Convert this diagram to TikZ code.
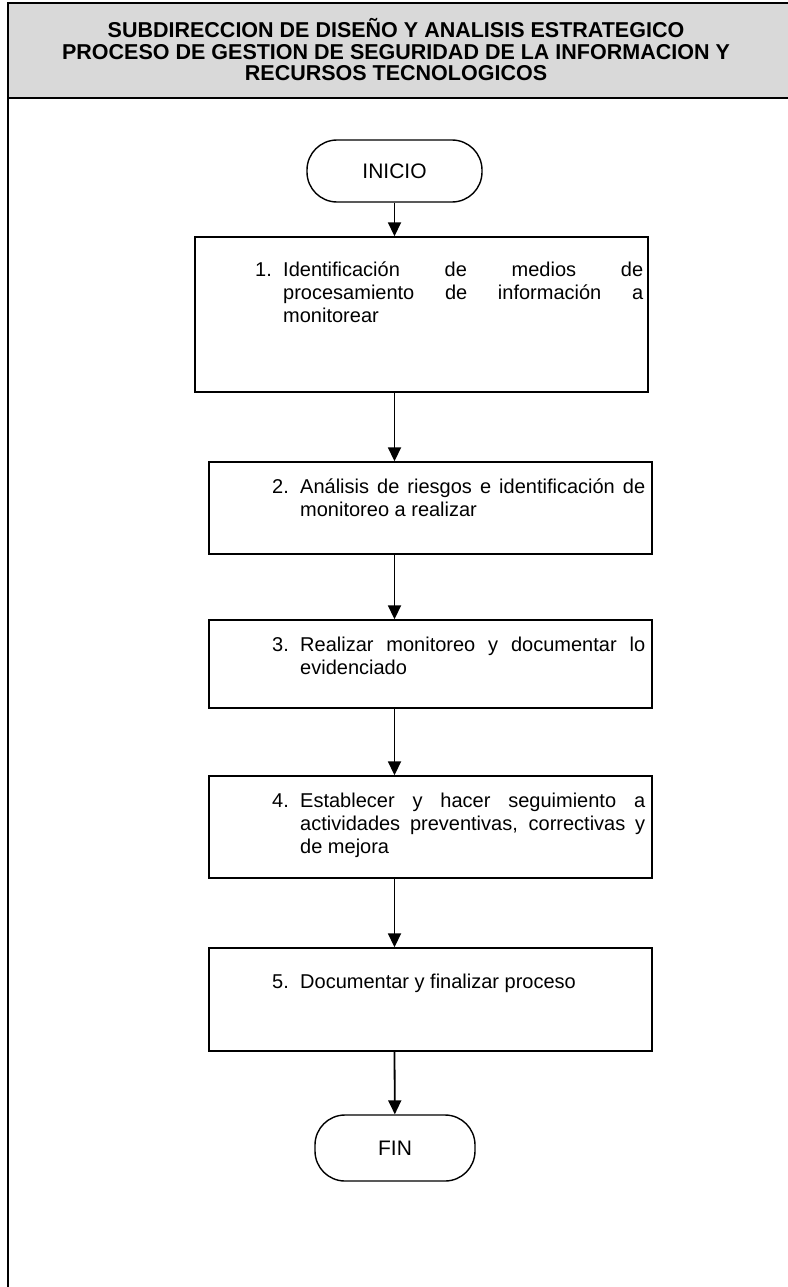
\documentclass[tikz,border=0pt]{standalone}
\usepackage{fontspec}
\setmainfont{Liberation Sans}
\usetikzlibrary{arrows.meta}

\definecolor{headgray}{RGB}{217,217,217}

\tikzset{
	terminal/.style = {draw, line width = 1.4pt, rounded corners = 30pt, font = \fontsize{21}{24}\selectfont},
	stepbox/.style = {draw, line width = 1.4pt, inner sep = 0pt},
	steplabel/.style = {anchor = base west, inner sep = 0pt, font = \fontsize{20}{23}\selectfont},
	steptext/.style = {anchor = base west, inner sep = 0pt, align = justify, font = \fontsize{20}{23}\selectfont},
	flow/.style = {line width = 1.8pt, -{Triangle[length = 14pt, width = 13pt]}}
}

\begin{document}
\begin{tikzpicture}[x = 1pt, y = -1pt]
	\useasboundingbox (0, 0) rectangle (787, 1287);
	\def\frameleft{8}
	\def\frametop{3}
	\def\headbottom{98}

	\fill[headgray] (\frameleft, \frametop) rectangle (800, \headbottom);
	\draw[line width = 2pt] (\frameleft, 1300) -- (\frameleft, \frametop) -- (800, \frametop);
	\draw[line width = 2pt] (\frameleft, \headbottom) -- (800, \headbottom);
	\node[align = center, font = \fontsize{21.5}{21.5}\selectfont\bfseries] (head) at (396, 50) {SUBDIRECCION DE DISEÑO Y ANALISIS ESTRATEGICO\\PROCESO DE GESTION DE SEGURIDAD DE LA INFORMACION Y\\RECURSOS TECNOLOGICOS};

	\node[terminal, minimum width = 175pt, minimum height = 62pt] (inicio) at (394.5, 171) {INICIO};

	\node[stepbox, minimum width = 453pt, minimum height = 155pt] (b1) at (421.5, 314.5) {};
	\node[stepbox, minimum width = 443pt, minimum height = 92pt] (b2) at (430.5, 508) {};
	\node[stepbox, minimum width = 443pt, minimum height = 88pt] (b3) at (430.5, 664) {};
	\node[stepbox, minimum width = 443pt, minimum height = 102pt] (b4) at (430.5, 827) {};
	\node[stepbox, minimum width = 443pt, minimum height = 103pt] (b5) at (430.5, 999.5) {};

	\node[terminal, minimum width = 160pt, minimum height = 66pt] (fin) at (395, 1148) {FIN};

	\node[steplabel] (n1) at (255, 276) {1.};
	\node[steptext, text width = 360pt] (t1) at (283, 276) {Identificación de medios de\linebreak procesamiento de información a\linebreak monitorear};
	\node[steplabel] (n2) at (272, 493) {2.};
	\node[steptext, text width = 345pt] (t2) at (300, 493) {Análisis de riesgos e identificación de\linebreak monitoreo a realizar};
	\node[steplabel] (n3) at (272, 651) {3.};
	\node[steptext, text width = 345pt] (t3) at (300, 651) {Realizar monitoreo y documentar lo\linebreak evidenciado};
	\node[steplabel] (n4) at (272, 807) {4.};
	\node[steptext, text width = 345pt] (t4) at (300, 807) {Establecer y hacer seguimiento a\linebreak actividades preventivas, correctivas y\linebreak de mejora};
	\node[steplabel] (n5) at (272, 988) {5.};
	\node[steptext, text width = 345pt] (t5) at (300, 988) {Documentar y finalizar proceso};

	\draw[flow] (inicio) -- (inicio |- b1.north);
	\draw[flow] (b1.south -| inicio) -- (inicio |- b2.north);
	\draw[flow] (b2.south -| inicio) -- (inicio |- b3.north);
	\draw[flow] (b3.south -| inicio) -- (inicio |- b4.north);
	\draw[flow] (b4.south -| inicio) -- (inicio |- b5.north);
	\draw[flow] (b5.south -| inicio) -- (fin);
\end{tikzpicture}
\end{document}
